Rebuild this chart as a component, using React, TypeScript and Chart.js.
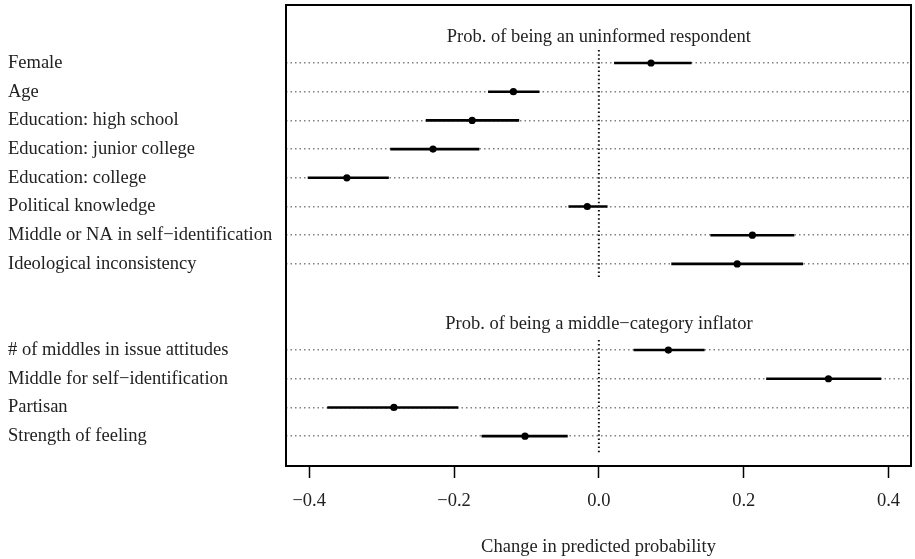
import React, { useEffect, useRef } from "react";
import { Chart, registerables } from "chart.js";

Chart.register(...registerables);

// Row labels (top to bottom)
const rowLabels: string[] = [
  "Female",
  "Age",
  "Education: high school",
  "Education: junior college",
  "Education: college",
  "Political knowledge",
  "Middle or NA in self\u2212identification",
  "Ideological inconsistency",
  "# of middles in issue attitudes",
  "Middle for self\u2212identification",
  "Partisan",
  "Strength of feeling",
];
// Row slot of each label (slots 8 and 9 hold the gap and the second panel title)
const rowSlots: number[] = [0, 1, 2, 3, 4, 5, 6, 7, 10, 11, 12, 13];

const estimates: number[] = [0.072, -0.118, -0.175, -0.229, -0.348, -0.016, 0.212, 0.191, 0.096, 0.317, -0.283, -0.102];
const lowerCI: number[] = [0.021, -0.153, -0.239, -0.288, -0.402, -0.042, 0.154, 0.1, 0.048, 0.231, -0.375, -0.162];
const upperCI: number[] = [0.128, -0.082, -0.11, -0.165, -0.29, 0.012, 0.27, 0.282, 0.146, 0.39, -0.194, -0.043];

const panelTitles: string[] = ["Prob. of being an uninformed respondent", "Prob. of being a middle\u2212category inflator"];
const panelTitleSlots: number[] = [-0.9, 9.1];
const zeroLineSpans: number[][] = [[-0.45, 7.55], [9.65, 13.6]];

const xTicks: number[] = [-0.4, -0.2, 0.0, 0.2, 0.4];
const xAxisTitle = "Change in predicted probability";

const FONT = "'Liberation Serif', 'Times New Roman', serif";
const FS = 18.5;

export default function App() {
  const ref = useRef<HTMLCanvasElement | null>(null);

  useEffect(() => {
    if (!ref.current) return;
    const datasets: any[] = [];
    // zero reference lines
    zeroLineSpans.forEach((s) => {
      datasets.push({
        type: "line",
        data: [{ x: 0, y: s[0] }, { x: 0, y: s[1] }],
        borderColor: "#111",
        borderWidth: 2,
        borderDash: [1.5, 2.6],
        pointRadius: 0,
        showLine: true,
      });
    });
    // CI segments
    rowSlots.forEach((slot, i) => {
      datasets.push({
        type: "line",
        data: [{ x: lowerCI[i], y: slot }, { x: upperCI[i], y: slot }],
        borderColor: "#000",
        borderWidth: 2.6,
        pointRadius: 0,
        showLine: true,
      });
    });
    // point estimates
    datasets.push({
      type: "scatter",
      data: rowSlots.map((slot, i) => ({ x: estimates[i], y: slot })),
      backgroundColor: "#000",
      borderColor: "#000",
      pointRadius: 3.6,
      borderWidth: 0,
    });

    const boxAndTitles = {
      id: "boxAndTitles",
      afterDatasetsDraw(chart: any) {
        const { ctx, chartArea, scales } = chart;
        ctx.save();
        ctx.fillStyle = "#222";
        ctx.font = `${FS}px ${FONT}`;
        ctx.textAlign = "center";
        ctx.textBaseline = "middle";
        panelTitles.forEach((t, i) => {
          ctx.fillText(t, scales.x.getPixelForValue(0), scales.y.getPixelForValue(panelTitleSlots[i]));
        });
        ctx.strokeStyle = "#000";
        ctx.lineWidth = 2;
        ctx.strokeRect(chartArea.left, chartArea.top, chartArea.right - chartArea.left, chartArea.bottom - chartArea.top);
        ctx.restore();
      },
    };

    const chart = new Chart(ref.current, {
      type: "scatter",
      data: { datasets },
      plugins: [boxAndTitles],
      options: {
        animation: false,
        responsive: true,
        maintainAspectRatio: false,
        layout: { padding: { left: 8, right: -2, top: 5, bottom: 0 } },
        plugins: { legend: { display: false }, tooltip: { enabled: false } },
        scales: {
          x: {
            type: "linear",
            min: -0.432,
            max: 0.431,
            afterBuildTicks: (s: any) => {
              s.ticks = xTicks.map((v) => ({ value: v }));
            },
            afterFit: (s: any) => {
              s.height = 93;
              s.paddingLeft = 0;
              s.paddingRight = 0;
            },
            ticks: {
              color: "#222",
              font: { family: FONT, size: FS },
              padding: 12,
              maxRotation: 0,
              callback: (v: any) => (Number(v) < 0 ? "\u2212" : "") + Math.abs(Number(v)).toFixed(1),
            },
            grid: {
              drawOnChartArea: false,
              drawTicks: true,
              tickLength: 12,
              tickWidth: 1.5,
              tickColor: "#000",
            },
            border: { display: false },
            title: {
              display: true,
              text: xAxisTitle,
              color: "#222",
              font: { family: FONT, size: FS },
              padding: { top: 0, bottom: 1 },
            },
          },
          y: {
            type: "linear",
            reverse: true,
            min: -2.02,
            max: 14.04,
            afterBuildTicks: (s: any) => {
              s.ticks = rowSlots.map((v) => ({ value: v }));
            },
            afterFit: (s: any) => {
              s.width = 278;
              s.paddingTop = 0;
              s.paddingBottom = 0;
            },
            ticks: {
              color: "#222",
              font: { family: FONT, size: FS },
              crossAlign: "far",
              padding: 0,
              callback: (v: any) => {
                const idx = rowSlots.indexOf(Number(v));
                return idx >= 0 ? rowLabels[idx] : "";
              },
            },
            grid: {
              drawTicks: false,
              color: "#808080",
              lineWidth: 1.5,
            } as any,
            border: { display: false, dash: [1.5, 3] },
          },
        },
      } as any,
    });
    return () => chart.destroy();
  }, []);

  return (
    <div style={{ position: "absolute", left: 0, top: 0, width: 915, height: 559, background: "#fff" }}>
      <canvas ref={ref} />
    </div>
  );
}
